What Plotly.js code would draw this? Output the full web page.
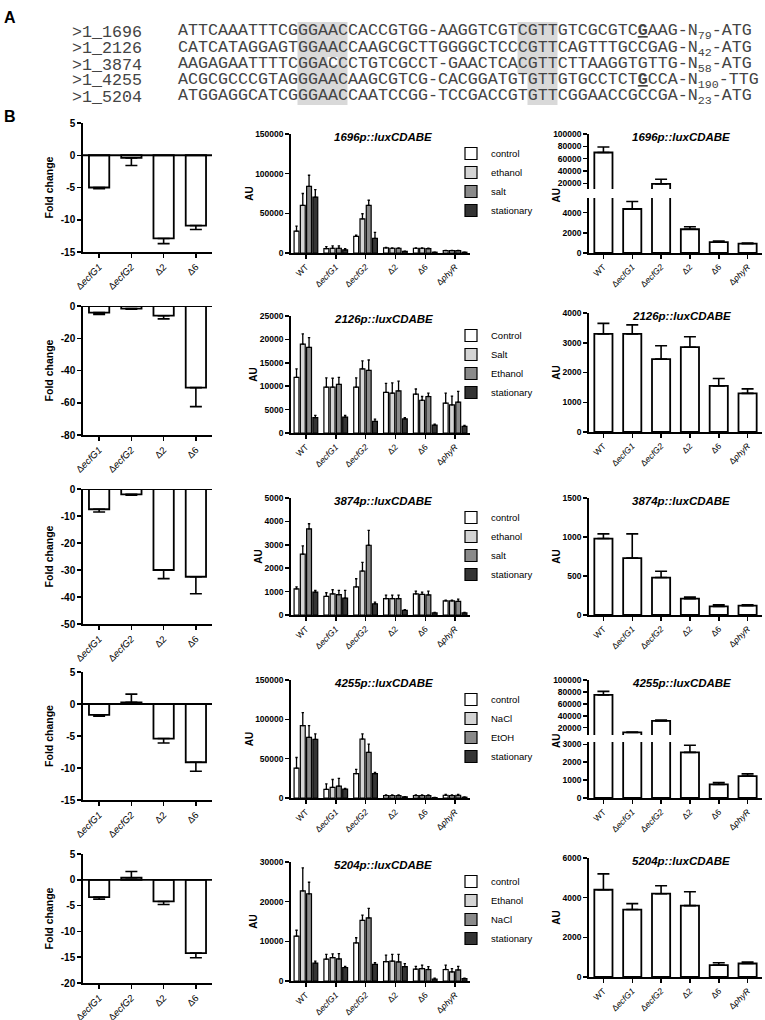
<!DOCTYPE html>
<html><head><meta charset="utf-8">
<script src="https://cdn.plot.ly/plotly-3.0.1.min.js"></script>
<style>html,body{margin:0;padding:0;background:#fff}#chart{width:765px;height:1020px}</style>
</head><body><div id="chart"></div>
<script>
// ================= DATA =================
// Panel A: promoter alignment
const seqNames = ['>1_1696', '>1_2126', '>1_3874', '>1_4255', '>1_5204'];
const seqBodies = [
  'ATTCAAATTTCGGGAACCACCGTGG-AAGGTCGTCGTTGTCGCGTCGAAG',
  'CATCATAGGAGTGGAACCAAGCGCTTGGGGCTCCCGTTCAGTTTGCCGAG',
  'AAGAGAATTTTCGGACCCTGTCGCCT-GAACTCACGTTCTTAAGGTGTTG',
  'ACGCGCCCGTAGGGAACAAGCGTCG-CACGGATGTGTTGTGCCTCTGCCA',
  'ATGGAGGCATCGGGAACCAATCCGG-TCCGACCGTGTTCGGAACCGCCGA'
];
const tssIndex = [46, -1, -1, 46, -1];
const spacerN = ['79', '42', '58', '190', '23'];
const startCodon = ['ATG', 'ATG', 'ATG', 'TTG', 'ATG'];

// Panel B: categories
const fcCats = ['ΔecfG1', 'ΔecfG2', 'Δ2', 'Δ6'];
const fcLabels = ['Δ<i>ecfG1</i>', 'Δ<i>ecfG2</i>', 'Δ2', 'Δ6'];
const strains = ['WT', 'ΔecfG1', 'ΔecfG2', 'Δ2', 'Δ6', 'ΔphyR'];
const strainLabels = ['WT', 'Δ<i>ecfG1</i>', 'Δ<i>ecfG2</i>', 'Δ2', 'Δ6', 'Δ<i>phyR</i>'];
const promoters = ['1696', '2126', '3874', '4255', '5204'];

// Fold change (left column)
const fold1696 = [-5.0, -0.4, -12.9, -10.9];
const fold1696Err = [0.2, 1.2, 0.8, 0.6];
const fold2126 = [-4.1, -1.6, -6.0, -50.6];
const fold2126Err = [1.1, 0.4, 2.0, 11.8];
const fold3874 = [-7.5, -2.0, -30.0, -32.5];
const fold3874Err = [1.0, 0.3, 3.2, 6.3];
const fold4255 = [-1.7, 0.25, -5.4, -9.1];
const fold4255Err = [0.2, 1.3, 0.7, 1.4];
const fold5204 = [-3.35, 0.4, -4.2, -14.2];
const fold5204Err = [0.4, 1.2, 0.6, 0.9];

// Reporter under conditions (middle column): one row per series
const lux1696Series = ['control', 'ethanol', 'salt', 'stationary'];
const lux1696 = [
  [27500, 5500, 21000, 6500, 6000, 3000],
  [60000, 6000, 43000, 6000, 6000, 3000],
  [84000, 6000, 60000, 6000, 5500, 3000],
  [70500, 4000, 18500, 2000, 1000, 1000]];
const lux1696Err = [
  [6500, 2500, 1500, 500, 500, 300],
  [15000, 3000, 6500, 500, 500, 300],
  [14000, 3000, 6500, 500, 500, 300],
  [9500, 1500, 7500, 300, 200, 200]];

const lux2126Series = ['Control', 'Salt', 'Ethanol', 'stationary'];
const lux2126 = [
  [11900, 9800, 9800, 8700, 8300, 6400],
  [19000, 9800, 13700, 8500, 7000, 6000],
  [18300, 10400, 13400, 9000, 7800, 6600],
  [3300, 3400, 2500, 3000, 1700, 1400]];
const lux2126Err = [
  [1800, 2000, 2000, 1900, 1100, 2100],
  [2200, 1900, 1700, 2200, 800, 1900],
  [2100, 1500, 2200, 2100, 700, 2300],
  [450, 350, 450, 300, 200, 200]];

const lux3874Series = ['control', 'ethanol', 'salt', 'stationary'];
const lux3874 = [
  [1120, 800, 1200, 700, 900, 600],
  [2600, 900, 1880, 700, 880, 600],
  [3680, 870, 2980, 700, 860, 580],
  [980, 720, 480, 200, 90, 90]];
const lux3874Err = [
  [80, 150, 350, 150, 120, 30],
  [350, 180, 370, 150, 100, 30],
  [220, 180, 640, 150, 160, 100],
  [70, 330, 70, 30, 20, 20]];

const lux4255Series = ['control', 'NaCl', 'EtOH', 'stationary'];
const lux4255 = [
  [38000, 11000, 31000, 3000, 3000, 3500],
  [92000, 13500, 75000, 3000, 3000, 3000],
  [77000, 15000, 58000, 3000, 3000, 3500],
  [74500, 11400, 31000, 1500, 500, 1000]];
const lux4255Err = [
  [13500, 7000, 5500, 1000, 800, 1000],
  [16500, 10000, 6500, 1000, 800, 1000],
  [15000, 10000, 10500, 1000, 800, 1000],
  [7000, 900, 1500, 300, 200, 300]];

const lux5204Series = ['control', 'Ethanol', 'NaCl', 'stationary'];
const lux5204 = [
  [11300, 5500, 9600, 4900, 3000, 2900],
  [22700, 5900, 15300, 5000, 3100, 2300],
  [22000, 5600, 15900, 4800, 2900, 2800],
  [4500, 3400, 4200, 3600, 500, 600]];
const lux5204Err = [
  [1500, 1200, 1300, 1600, 700, 1100],
  [5800, 950, 1300, 1700, 900, 800],
  [2900, 1300, 2400, 1900, 700, 900],
  [500, 250, 450, 800, 200, 150]];

// Reporter per strain (right column)
const total1696 = [70000, 4350, 19000, 2350, 1080, 930];
const total1696Err = [9000, 750, 7500, 250, 100, 50];
const total2126 = [3300, 3300, 2450, 2850, 1550, 1300];
const total2126Err = [350, 300, 450, 350, 250, 150];
const total3874 = [980, 730, 480, 210, 110, 120];
const total3874Err = [60, 310, 80, 20, 20, 10];
const total4255 = [75000, 12000, 31500, 2550, 760, 1220];
const total4255Err = [6000, 500, 1500, 400, 110, 130];
const total5204 = [4400, 3400, 4200, 3600, 600, 680];
const total5204Err = [800, 300, 400, 700, 120, 80];

// ================= DRAWING =================
const W = 765, H = 1020;
const FONT = '"Liberation Sans", Arial, Helvetica, sans-serif';
const MONO = '"Liberation Mono", "Courier New", monospace';
const SERIES_COLORS = ['#ffffff', '#d4d4d4', '#8a8a8a', '#343434'];
const px = v => v / W;
const py = v => 1 - v / H;

const data = [];
const layout = {
  width: W, height: H, margin: {l: 0, r: 0, t: 0, b: 0, pad: 0},
  paper_bgcolor: '#ffffff', plot_bgcolor: 'rgba(0,0,0,0)',
  font: {family: FONT, color: '#000', size: 9},
  barmode: 'group', bargap: 0.16, bargroupgap: 0.22, hovermode: false,
  annotations: [], shapes: []
};

// ---- Panel A ----
const CW = 10, SEQ_X = 177.5, NAME_X = 72;
const rowY = [32, 48.5, 65, 81, 97];
function seqText(i) {
  const s = seqBodies[i], k = tssIndex[i];
  const body = k < 0 ? s : s.slice(0, k) + '<b><u>' + s[k] + '</u></b>' + s.slice(k + 1);
  return body + '-N<sub>' + spacerN[i] + '</sub>-' + startCodon[i];
}
// shaded conserved boxes (-35 GGAAC and -10 CGTT)
const boxes = [
  {c0: 12, c1: 17, r0: 0, r1: 4},
  {c0: 34, c1: 38, r0: 0, r1: 2},
  {c0: 35, c1: 38, r0: 3, r1: 4}
];
boxes.forEach(b => {
  const y0 = b.r0 === 0 ? 22 : rowY[b.r0] - 8.2;
  const y1 = b.r1 === 4 ? 105 : rowY[b.r1] + 8.2;
  layout.shapes.push({type: 'rect', xref: 'paper', yref: 'paper', layer: 'below',
    x0: px(SEQ_X + b.c0 * CW), x1: px(SEQ_X + b.c1 * CW), y0: py(y1), y1: py(y0),
    fillcolor: '#d9d9d9', line: {width: 0}});
});
layout.shapes.push({type: 'rect', xref: 'paper', yref: 'paper', layer: 'below',
  x0: px(SEQ_X + 15 * CW), x1: px(SEQ_X + 16 * CW), y0: py(65), y1: py(57),
  fillcolor: '#ffffff', line: {width: 0}});

seqNames.forEach((n, i) => {
  layout.annotations.push({text: n, x: px(NAME_X), y: py(rowY[i]), xref: 'paper', yref: 'paper',
    xanchor: 'left', yanchor: 'middle', showarrow: false, borderpad: 0, borderwidth: 0,
    font: {family: MONO, size: CW / 0.6, color: '#444'}});
  layout.annotations.push({text: seqText(i), x: px(SEQ_X), y: py(rowY[i]), xref: 'paper', yref: 'paper',
    xanchor: 'left', yanchor: 'middle', showarrow: false, borderpad: 0, borderwidth: 0,
    font: {family: MONO, size: CW / 0.6, color: '#444'}});
});
layout.annotations.push({text: '<b>A</b>', x: px(2), y: py(17), xref: 'paper', yref: 'paper',
  xanchor: 'left', yanchor: 'middle', showarrow: false, font: {family: FONT, size: 16, color: '#000'}});
layout.annotations.push({text: '<b>B</b>', x: px(2), y: py(116), xref: 'paper', yref: 'paper',
  xanchor: 'left', yanchor: 'middle', showarrow: false, font: {family: FONT, size: 16, color: '#000'}});

// ---- Panel B helpers ----
let nx = 0, ny = 0;
const nextX = () => (++nx === 1 ? 'x' : 'x' + nx);
const nextY = () => (++ny === 1 ? 'y' : 'y' + ny);
const axKey = id => id[0] + 'axis' + id.slice(1);
const LINE = {showline: true, linecolor: '#000', linewidth: 1.8, ticks: 'outside', ticklen: 4,
  tickwidth: 1.5, tickcolor: '#000', showgrid: false, zeroline: false, fixedrange: true};

function ticksFor(r, d) {
  const v = [];
  for (let t = Math.ceil(r[0] / d - 1e-9) * d; t <= r[1] + 1e-9; t += d) v.push(Math.round(t));
  return {tickmode: 'array', tickvals: v, ticktext: v.map(String)};
}
function xCat(dom, anchor, cats, labels, fs) {
  return Object.assign({domain: [px(dom[0]), px(dom[1])], anchor, type: 'category',
    categoryorder: 'array', categoryarray: cats, tickmode: 'array', tickvals: cats, ticktext: labels,
    range: [-0.5, cats.length - 0.5], tickangle: -45,
    tickfont: {family: FONT, size: fs, color: '#000'}}, LINE);
}
function yLin(box, anchor, range, ticks, fs) {
  return Object.assign({domain: [py(box[1]), py(box[0])], anchor, range,
    tickfont: {family: FONT, size: fs, weight: 700, color: '#000'}}, LINE, ticks);
}
function oneSided(vals, errs, w, th) {
  return {type: 'data', symmetric: false, color: '#000', thickness: th, width: w,
    array: vals.map((v, i) => v >= 0 ? errs[i] : 0),
    arrayminus: vals.map((v, i) => v < 0 ? errs[i] : 0)};
}
function titleAnn(p, cx, cy) {
  layout.annotations.push({text: '<b><i>' + p + 'p::luxCDABE</i></b>', x: px(cx), y: py(cy),
    xref: 'paper', yref: 'paper', xanchor: 'center', yanchor: 'middle', showarrow: false,
    font: {family: FONT, size: 11.5, color: '#000'}});
}

const LEFT_X = [83, 212], MID_X = [291, 470], RIGHT_X = [589, 762];

function foldPanel(vals, errs, box, yr, dtick) {
  const xa = nextX(), ya = nextY();
  layout[axKey(xa)] = xCat(LEFT_X, ya, fcCats, fcLabels, 9.5);
  const y = yLin(box, xa, yr, ticksFor(yr, dtick), 10);
  y.title = {text: 'Fold change', font: {family: FONT, size: 10.5, weight: 700, color: '#000'}, standoff: 5};
  layout[axKey(ya)] = y;
  data.push({type: 'bar', x: fcCats, y: vals, xaxis: xa, yaxis: ya, width: 0.63, showlegend: false,
    marker: {color: '#fff', line: {color: '#000', width: 1.8}}, error_y: oneSided(vals, errs, 6, 1.6)});
  layout.shapes.push({type: 'line', xref: xa + ' domain', yref: ya, x0: 0, x1: 1, y0: 0, y1: 0,
    line: {color: '#000', width: 1.8}});
}

let legendCount = 0;
function luxPanel(p, names, vals, errs, box, yr, dtick) {
  const xa = nextX(), ya = nextY();
  legendCount++;
  const lg = legendCount === 1 ? 'legend' : 'legend' + legendCount;
  layout[axKey(xa)] = xCat(MID_X, ya, strains, strainLabels, 8.5);
  const y = yLin(box, xa, yr, ticksFor(yr, dtick), 8.5);
  y.title = {text: 'AU', font: {family: FONT, size: 10, weight: 700, color: '#000'}, standoff: 0};
  layout[axKey(ya)] = y;
  names.forEach((n, k) => data.push({type: 'bar', name: n, x: strains, y: vals[k], xaxis: xa, yaxis: ya,
    legend: lg, marker: {color: SERIES_COLORS[k], line: {color: '#000', width: 1.2}},
    error_y: oneSided(vals[k], errs[k], 1.2, 1.3)}));
  layout[lg] = {x: px(451), y: py(box[0] + 5), xanchor: 'left', yanchor: 'top',
    bgcolor: 'rgba(0,0,0,0)', borderwidth: 0, itemwidth: 30, tracegroupgap: 0, traceorder: 'normal',
    font: {family: FONT, size: 9.5, color: '#000'}};
  titleAnn(p, 383, box[0] + 3);
}

function totalPanel(p, vals, errs, box, yr, dtick) {
  const xa = nextX(), ya = nextY();
  layout[axKey(xa)] = xCat(RIGHT_X, ya, strains, strainLabels, 8.5);
  const y = yLin(box, xa, yr, ticksFor(yr, dtick), 8.5);
  y.title = {text: 'AU', font: {family: FONT, size: 10, weight: 700, color: '#000'}, standoff: 0};
  layout[axKey(ya)] = y;
  data.push({type: 'bar', x: strains, y: vals, xaxis: xa, yaxis: ya, width: 0.63, showlegend: false,
    marker: {color: '#fff', line: {color: '#000', width: 1.8}}, error_y: oneSided(vals, errs, 6, 1.6)});
  titleAnn(p, 681, box[0] + 3);
}

function totalBroken(p, vals, errs, upBox, upRange, upTicks, loBox, loRange, loTicks) {
  const xa = nextX(), yl = nextY(), yu = nextY();
  layout[axKey(xa)] = xCat(RIGHT_X, yl, strains, strainLabels, 8.5);
  layout[axKey(yl)] = yLin(loBox, xa, loRange,
    {tickmode: 'array', tickvals: loTicks, ticktext: loTicks.map(String)}, 8.5);
  layout[axKey(yu)] = yLin(upBox, xa, upRange,
    {tickmode: 'array', tickvals: upTicks, ticktext: upTicks.map(String)}, 8.5);
  [yl, yu].forEach(ya => data.push({type: 'bar', x: strains, y: vals, xaxis: xa, yaxis: ya, width: 0.63,
    showlegend: false, marker: {color: '#fff', line: {color: '#000', width: 1.8}},
    error_y: oneSided(vals, errs, 6, 1.6)}));
  layout.annotations.push({text: '<b>AU</b>', x: px(556), y: py((upBox[0] + loBox[1]) / 2 + 2),
    xref: 'paper', yref: 'paper', xanchor: 'center', yanchor: 'middle', textangle: -90, showarrow: false,
    font: {family: FONT, size: 10, color: '#000'}});
  titleAnn(p, 681, upBox[0] + 3);
}

// ---- Row 1: 1696 ----
foldPanel(fold1696, fold1696Err, [123, 252], [-15, 5], 5);
luxPanel(promoters[0], lux1696Series, lux1696, lux1696Err, [134, 253], [0, 150000], 50000);
totalBroken(promoters[0], total1696, total1696Err,
  [134, 189], [10700, 100000], [20000, 40000, 60000, 80000, 100000],
  [198, 253], [0, 5440], [0, 2000, 4000]);
// ---- Row 2: 2126 ----
foldPanel(fold2126, fold2126Err, [306, 435], [-80, 0], 20);
luxPanel(promoters[1], lux2126Series, lux2126, lux2126Err, [316, 433], [0, 25000], 5000);
totalPanel(promoters[1], total2126, total2126Err, [313, 432], [0, 4000], 1000);
// ---- Row 3: 3874 ----
foldPanel(fold3874, fold3874Err, [489, 624], [-50, 0], 10);
luxPanel(promoters[2], lux3874Series, lux3874, lux3874Err, [498, 615], [0, 5000], 1000);
totalPanel(promoters[2], total3874, total3874Err, [498, 615], [0, 1500], 500);
// ---- Row 4: 4255 ----
foldPanel(fold4255, fold4255Err, [672, 800], [-15, 5], 5);
luxPanel(promoters[3], lux4255Series, lux4255, lux4255Err, [680, 798], [0, 150000], 50000);
totalBroken(promoters[3], total4255, total4255Err,
  [680, 735], [7760, 100000], [20000, 40000, 60000, 80000, 100000],
  [742, 798], [0, 3130], [0, 1000, 2000, 3000]);
// ---- Row 5: 5204 ----
foldPanel(fold5204, fold5204Err, [854, 983], [-20, 5], 5);
luxPanel(promoters[4], lux5204Series, lux5204, lux5204Err, [862, 981], [0, 30000], 10000);
totalPanel(promoters[4], total5204, total5204Err, [858, 977], [0, 6000], 2000);

Plotly.newPlot('chart', data, layout, {staticPlot: true, displayModeBar: false});
</script>
</body></html>
